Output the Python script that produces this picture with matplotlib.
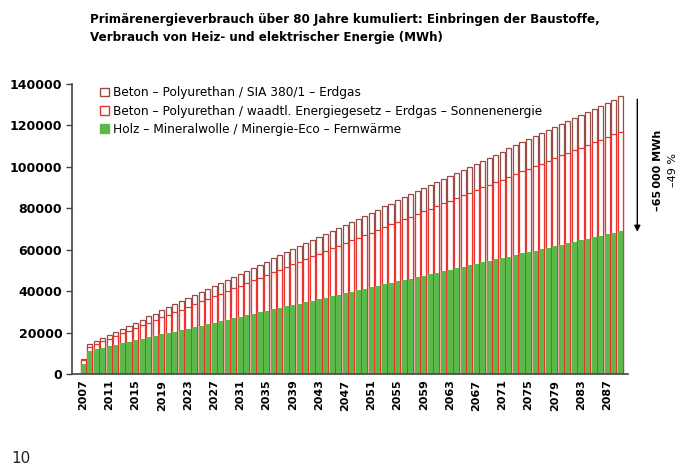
import matplotlib
matplotlib.use("Agg")
import matplotlib.pyplot as plt
from matplotlib.patches import Patch

years = list(range(2007, 2090))

# Holz - Mineralwolle / Minergie-Eco - Fernwaerme
holz = [5000, 11300, 12000, 12700, 13400, 14100, 14800, 15600, 16300, 17000,
        17700, 18400, 19100, 19800, 20500, 21200, 21900, 22700, 23400, 24100,
        24800, 25500, 26200, 26900, 27600, 28300, 29100, 29800, 30500, 31200,
        31900, 32600, 33300, 34000, 34700, 35400, 36200, 36900, 37600, 38300,
        39000, 39700, 40400, 41100, 41800, 42500, 43300, 44000, 44700, 45400,
        46100, 46800, 47500, 48200, 48900, 49600, 50400, 51100, 51800, 52500,
        53200, 53900, 54600, 55300, 56000, 56700, 57500, 58200, 58900, 59600,
        60300, 61000, 61700, 62400, 63100, 63800, 64600, 65300, 66000, 66700,
        67400, 68100, 68800]

# Beton - Polyurethan / waadtl. Energiegesetz - Erdgas - Sonnenenergie
beton_sonne = [6800, 13200, 14500, 15800, 17000, 18300, 19600, 20900, 22200, 23500,
               24700, 26000, 27300, 28600, 29900, 31100, 32400, 33700, 35000, 36300,
               37500, 38800, 40100, 41400, 42700, 44000, 45200, 46500, 47800, 49100,
               50400, 51600, 52900, 54200, 55500, 56800, 58100, 59300, 60600, 61900,
               63200, 64500, 65700, 67000, 68300, 69600, 70900, 72200, 73400, 74700,
               76000, 77300, 78600, 79800, 81100, 82400, 83700, 85000, 86300, 87500,
               88800, 90100, 91400, 92700, 93900, 95200, 96500, 97800, 99100, 100400,
               101600, 102900, 104200, 105500, 106800, 108000, 109300, 110600, 111900, 113200,
               114500, 115700, 117000]

# Beton - Polyurethan / SIA 380/1 - Erdgas
beton_sia = [7000, 14500, 16000, 17400, 18900, 20400, 21900, 23300, 24800, 26300,
             27800, 29200, 30700, 32200, 33700, 35100, 36600, 38100, 39600, 41000,
             42500, 44000, 45500, 46900, 48400, 49900, 51400, 52800, 54300, 55800,
             57300, 58700, 60200, 61700, 63200, 64600, 66100, 67600, 69100, 70500,
             72000, 73500, 75000, 76400, 77900, 79400, 80900, 82300, 83800, 85300,
             86800, 88200, 89700, 91200, 92700, 94100, 95600, 97100, 98600, 100000,
             101500, 103000, 104500, 105900, 107400, 108900, 110400, 111800, 113300, 114800,
             116300, 117700, 119200, 120700, 122200, 123600, 125100, 126600, 128100, 129500,
             131000, 132500, 134000]

labels = ["Beton – Polyurethan / SIA 380/1 – Erdgas",
          "Beton – Polyurethan / waadtl. Energiegesetz – Erdgas – Sonnenenergie",
          "Holz – Mineralwolle / Minergie-Eco – Fernwärme"]
xticks = list(range(2007, 2090, 4))
yticks = [0, 20000, 40000, 60000, 80000, 100000, 120000, 140000]

brown = "#9a4b46"
red = "#e8342c"
green = "#5cb848"
axis_col = "#444444"

fig = plt.figure(figsize=(6.88, 4.76), dpi=100)
ax = fig.add_axes([0.1047, 0.2143, 0.8083, 0.6092])

w = 0.78
ax.bar(years, beton_sia, width=w, color="white", edgecolor=brown, linewidth=0.9)
ax.bar(years, beton_sonne, width=w, color="white", edgecolor=red, linewidth=0.9)
ax.bar(years, holz, width=w, color=green, linewidth=0)

ax.set_xlim(2005.3, 2090.2)
ax.set_ylim(0, 140000)
ax.set_yticks(yticks)
ax.set_yticklabels([str(v) for v in yticks], fontsize=9, fontweight="bold")
ax.set_xticks(xticks)
ax.set_xticklabels([str(v) for v in xticks], rotation=90, fontsize=8,
                   fontweight="bold")
ax.tick_params(axis="x", length=0, pad=4)
ax.tick_params(axis="y", length=4, width=1, color=axis_col, pad=3)
for s in ["top", "right"]:
    ax.spines[s].set_visible(False)
for s in ["left", "bottom"]:
    ax.spines[s].set_color(axis_col)
    ax.spines[s].set_linewidth(1.2)

handles = [Patch(facecolor="white", edgecolor=brown, linewidth=1),
           Patch(facecolor="white", edgecolor=red, linewidth=1),
           Patch(facecolor=green, edgecolor=green)]
ax.legend(handles, labels, loc="upper left", bbox_to_anchor=(0.03, 1.03),
          frameon=False, fontsize=8.7, handlelength=0.75, handleheight=0.75,
          handletextpad=0.4, labelspacing=0.45)

fig.text(0.131, 0.972, "Primärenergieverbrauch über 80 Jahre kumuliert: Einbringen der Baustoffe,\n"
         "Verbrauch von Heiz- und elektrischer Energie (MWh)",
         fontsize=8.6, fontweight="bold", va="top", ha="left", linespacing=1.5)

# difference arrow on the right
ax.annotate("", xy=(2091.6, holz[-1] - 1500), xytext=(2091.6, beton_sia[-1]),
            xycoords="data", textcoords="data", annotation_clip=False,
            arrowprops=dict(arrowstyle="-|>", color="black", lw=1,
                            mutation_scale=9))
ax.text(2094.8, 98500, "–65\u2009000 MWh", rotation=90,
        ha="center", va="center", fontsize=8, fontweight="bold", clip_on=False)
ax.text(2097.1, 98500, "–49 %", rotation=90,
        ha="center", va="center", fontsize=8, clip_on=False)

fig.text(0.016, 0.027, "10", fontsize=11, color="#222222")

fig.savefig("out.png", dpi=100)
